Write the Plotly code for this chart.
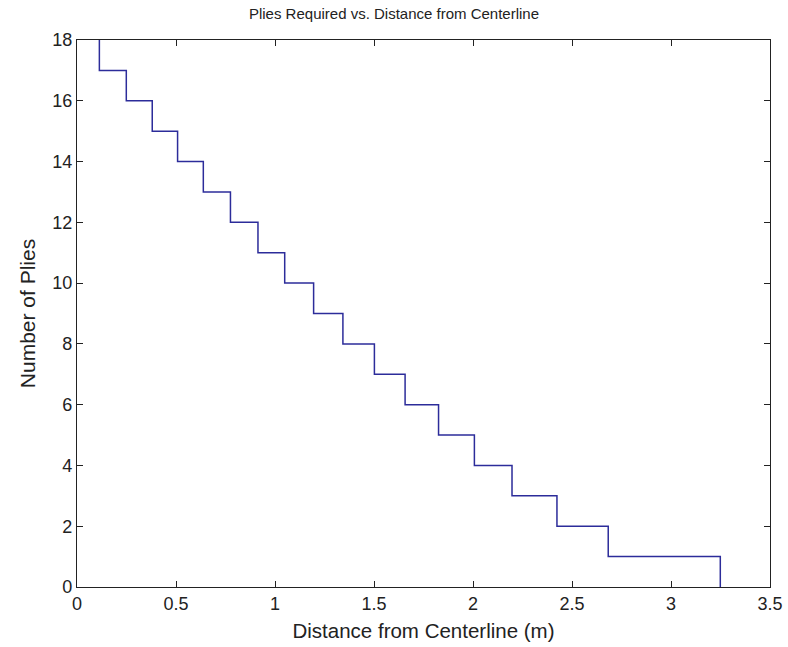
import plotly.graph_objects as go

# Distance (m) at which the required ply count drops by one
transition_x = [0.113, 0.249, 0.380, 0.508, 0.638, 0.775, 0.914, 1.049, 1.195,
                1.343, 1.502, 1.657, 1.826, 2.007, 2.197, 2.424, 2.683, 3.249]
ply_levels = list(range(18, -1, -1))  # 18 ... 0

x_tick_vals = [0, 0.5, 1, 1.5, 2, 2.5, 3, 3.5]
x_tick_text = ["0", "0.5", "1", "1.5", "2", "2.5", "3", "3.5"]
y_tick_vals = [0, 2, 4, 6, 8, 10, 12, 14, 16, 18]

xs = transition_x + [transition_x[-1]]
ys = ply_levels

fig = go.Figure()
fig.add_trace(go.Scatter(x=xs, y=ys, mode="lines", line=dict(shape="vh", color="#2c2c9a", width=1.5),
                         showlegend=False, hoverinfo="skip"))

fam = "Liberation Sans, Arial, sans-serif"
font = dict(family=fam, size=18, color="#222222")
axis_common = dict(showgrid=False, zeroline=False, showline=True, linecolor="#222222", linewidth=1.2,
                   mirror="ticks", ticks="inside", ticklen=6, tickcolor="#222222", tickwidth=1.2,
                   automargin=False,
                   tickfont=dict(family=fam, size=18, color="#222222"))
fig.update_layout(
    width=788, height=647,
    margin=dict(l=77, r=18, t=40, b=60),
    paper_bgcolor="white", plot_bgcolor="white",
    font=font,
    title=dict(text="Plies Required vs. Distance from Centerline", x=0.5, xanchor="center",
               y=1 - 14 / 647, yanchor="middle", font=dict(family=fam, size=15, color="#222222")),
    xaxis=dict(range=[0, 3.5], tickvals=x_tick_vals, ticktext=x_tick_text,
               title=dict(text="Distance from Centerline (m)", standoff=10, font=dict(family=fam, size=20.5)),
               **axis_common),
    yaxis=dict(range=[0, 18], tickvals=y_tick_vals,
               title=dict(text="Number of Plies", standoff=10, font=dict(family=fam, size=21)),
               **axis_common),
)
fig.write_html("out.html")
